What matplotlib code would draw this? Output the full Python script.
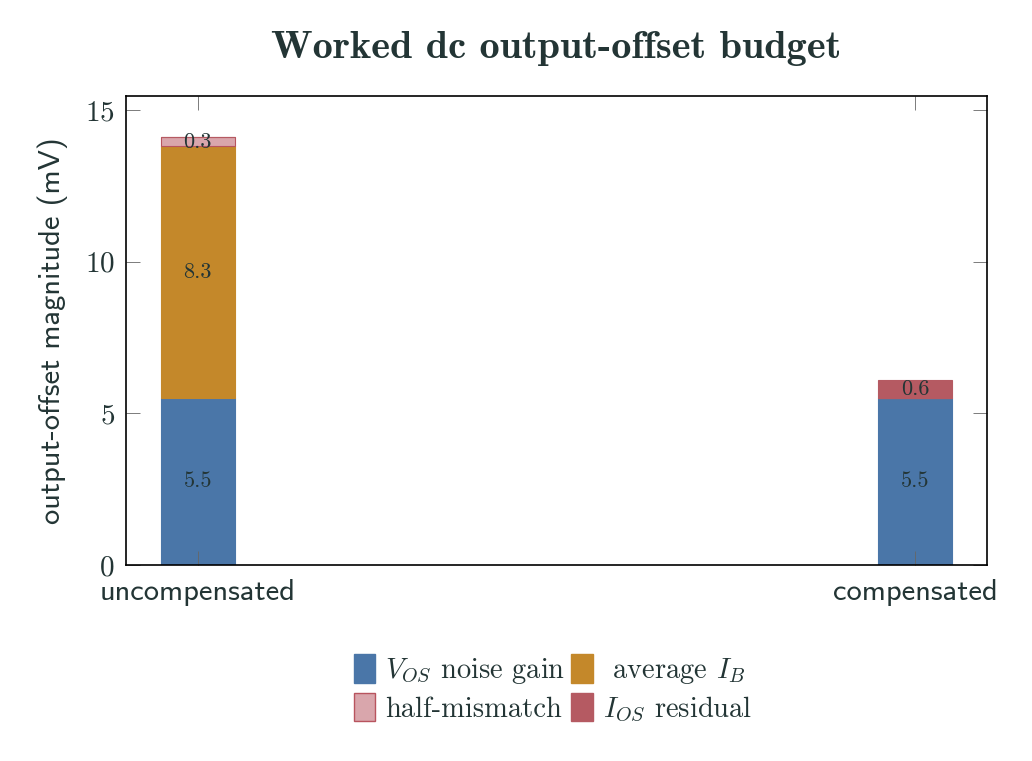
import numpy as np
import matplotlib.pyplot as plt
import matplotlib.patches as mpatches

plt.rcParams['font.family'] = 'cmr10'
plt.rcParams['mathtext.fontset'] = 'cm'
plt.rcParams['axes.formatter.use_mathtext'] = True

txt = '#233535'

# data (mV)
categories = ['uncompensated', 'compensated']
vos_noise_gain = [5.5, 5.5]
average_ib = [8.3, 0.0]
half_mismatch = [0.3, 0.0]
ios_residual = [0.0, 0.6]

series = [
    (vos_noise_gain, r'$V_{OS}$ noise gain', '#4a76a8', '#4a76a8'),
    (average_ib, r' average $I_B$', '#c4882a', '#c4882a'),
    (half_mismatch, 'half-mismatch', '#d9a6ac', '#b8545e'),
    (ios_residual, r'$I_{OS}$ residual', '#b55a62', '#b55a62'),
]

fig = plt.figure(figsize=(10.32, 7.61), dpi=100)
ax = fig.add_axes([126/1032, 1-565/761, (987-126)/1032, (565-96)/761])

x = np.arange(len(categories))
w = 0.103
bottom = np.zeros(len(categories))
handles = []
for vals, lab, fc, ec in series:
    vals = np.array(vals)
    ax.bar(x, vals, w, bottom=bottom, color=fc, edgecolor=ec, linewidth=0.8)
    for xi, v, b in zip(x, vals, bottom):
        if v > 0:
            ax.text(xi, b + v/2, f'{v:.1f}', ha='center', va='center',
                    fontsize=16, color=txt)
    bottom += vals
    handles.append(mpatches.Patch(facecolor=fc, edgecolor=ec, label=lab))

ax.set_xlim(-0.1, 1.1)
ax.set_ylim(0, 15.46)
ax.set_yticks([0, 5, 10, 15])
ax.set_xticks(x)
ax.set_xticklabels(categories, family='cmss10', fontsize=22, color=txt)
ax.tick_params(axis='y', labelsize=21, labelcolor=txt, pad=8)
ax.tick_params(direction='in', top=True, right=True, length=10, width=0.6, color='#666666')
ax.tick_params(axis='x', pad=10)
for s in ax.spines.values():
    s.set_linewidth(1.2)
ax.set_ylabel('output-offset magnitude (mV)', family='cmss10', fontsize=22, color=txt, labelpad=12)
ax.set_title('Worked dc output-offset budget', family='cmb10', fontsize=29,
             color=txt, pad=27)

order = [handles[0], handles[2], handles[1], handles[3]]
fig.legend(handles=order, loc='center', bbox_to_anchor=(553/1032, 1-689/761),
           ncol=2, frameon=False, fontsize=20.5, handlelength=0.75, handleheight=1.15,
           handletextpad=0.35, columnspacing=0.2, labelspacing=0.25, labelcolor=txt,
           borderaxespad=0)

fig.savefig('out.png', dpi=100)
